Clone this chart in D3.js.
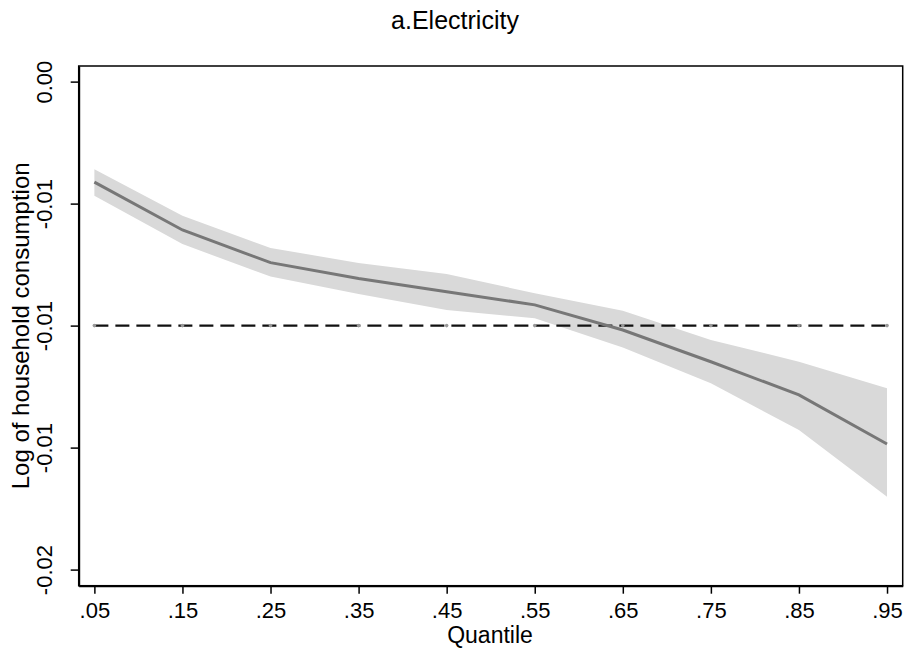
<!DOCTYPE html>
<html><head><meta charset="utf-8">
<script src="https://cdn.jsdelivr.net/npm/d3@7"></script>
<style>body{margin:0;background:#fff}text{font-family:"Liberation Sans",Arial,sans-serif;fill:#000}</style>
</head><body><svg id="c" width="911" height="656"></svg>
<script>
const quantiles = [0.05,0.15,0.25,0.35,0.45,0.55,0.65,0.75,0.85,0.95];
const estimate = [-0.00412,-0.00608,-0.00742,-0.00807,-0.00861,-0.00915,-0.01018,-0.01148,-0.01284,-0.01485];
const upper    = [-0.00359,-0.00550,-0.00682,-0.00743,-0.00789,-0.00867,-0.00939,-0.01059,-0.01148,-0.01257];
const lower    = [-0.00468,-0.00666,-0.00799,-0.00870,-0.00936,-0.00970,-0.01090,-0.01236,-0.01428,-0.01701];
const refValue = -0.01;
const yTicks = [0,-0.005,-0.01,-0.015,-0.02];
const yTickLabels = ["0.00","-0.01","-0.01","-0.01","-0.02"];
const xTickLabels = [".05",".15",".25",".35",".45",".55",".65",".75",".85",".95"];

const svg = d3.select("#c");
const L=78.7, R=902.7, T=66, B=585.7;
const x = d3.scaleLinear().domain([0.0322,0.9678]).range([L,R]);
const y = d3.scaleLinear().domain([-0.02066,0.00064]).range([B,T]);
const data = quantiles.map((q,i)=>({q,e:estimate[i],u:upper[i],l:lower[i]}));

// band
svg.append("path").datum(data)
  .attr("d", d3.area().x(d=>x(d.q)).y0(d=>y(d.l)).y1(d=>y(d.u)))
  .attr("fill","#d9d9d9");
// reference dashed line
svg.append("line").attr("x1",x(quantiles[0])).attr("x2",x(quantiles[quantiles.length-1]))
  .attr("y1",y(refValue)).attr("y2",y(refValue))
  .attr("stroke","#111").attr("stroke-width",2.2).attr("stroke-dasharray","14,7");
svg.append("g").selectAll("circle").data(quantiles).join("circle")
  .attr("cx",d=>x(d)).attr("cy",y(refValue)).attr("r",1.8).attr("fill","#999");
// estimate line
svg.append("path").datum(data)
  .attr("d", d3.line().x(d=>x(d.q)).y(d=>y(d.e)))
  .attr("fill","none").attr("stroke","#777").attr("stroke-width",3);

// frame
svg.append("rect").attr("x",L).attr("y",T).attr("width",R-L).attr("height",B-T)
  .attr("fill","none").attr("stroke","#000").attr("stroke-width",1.5);

// axes
const xa = svg.append("g").attr("transform",`translate(0,${B})`)
  .call(d3.axisBottom(x).tickValues(quantiles).tickFormat((d,i)=>xTickLabels[i]).tickSizeInner(8).tickSizeOuter(0).tickPadding(4));
const ya = svg.append("g").attr("transform",`translate(${L},0)`)
  .call(d3.axisLeft(y).tickValues(yTicks).tickFormat((d,i)=>yTickLabels[i]).tickSizeInner(8).tickSizeOuter(0).tickPadding(4));
[xa,ya].forEach(g=>{g.select(".domain").attr("stroke","#000").attr("stroke-width",2);
  g.selectAll(".tick line").attr("stroke","#000").attr("stroke-width",1.5);
  g.selectAll("text").style("font-family","Liberation Sans, Arial, sans-serif").style("font-size","22px").attr("fill","#000");});
xa.selectAll(".tick text").attr("y",null).attr("dy",null).attr("y",32);
ya.selectAll(".tick text").attr("x",0).attr("dy",null).attr("y",-26.5)
  .attr("text-anchor","middle").attr("transform","rotate(-90)");

// titles
svg.append("text").attr("x",455).attr("y",29).attr("text-anchor","middle").style("font-size","25px").text("a.Electricity");
svg.append("text").attr("x",490).attr("y",643).attr("text-anchor","middle").style("font-size","23px").text("Quantile");
svg.append("text").attr("transform",`translate(29,${(T+B)/2}) rotate(-90)`).attr("text-anchor","middle").style("font-size","24px").text("Log of household consumption");
</script></body></html>
